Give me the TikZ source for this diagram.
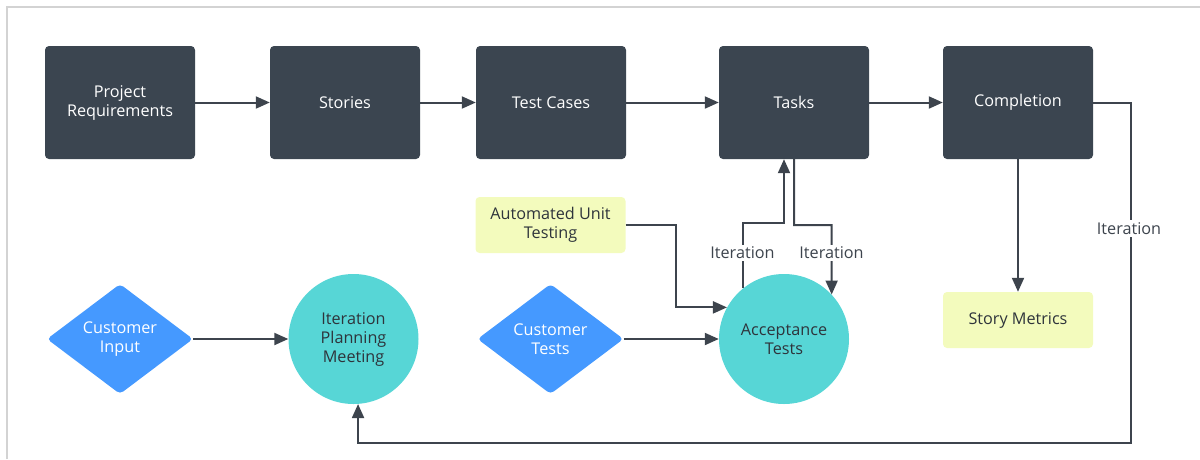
\documentclass[tikz,border=0pt]{standalone}
\usepackage{fontspec}
\setmainfont{Open Sans}
\usetikzlibrary{shapes.geometric,arrows.meta}
\definecolor{slate}{HTML}{3B4550}
\definecolor{lineclr}{HTML}{3D444D}
\definecolor{teal}{HTML}{57D6D6}
\definecolor{skyblue}{HTML}{4599FF}
\definecolor{paleyellow}{HTML}{F3FBBD}
\definecolor{framegray}{HTML}{D3D3D3}
\definecolor{inkdark}{HTML}{2E343B}
\tikzset{
  base/.style={font=\fontsize{16.2}{19}\selectfont, align=center, inner sep=0pt},
  darkbox/.style={base, rectangle, rounded corners=4pt, fill=slate, text=white,
    minimum width=150pt, minimum height=113pt},
  notebox/.style={base, rectangle, rounded corners=4pt, fill=paleyellow, text=inkdark,
    minimum width=150pt, minimum height=56pt},
  decision/.style={base, diamond, aspect=1.33, rounded corners=4pt, fill=skyblue, text=white,
    minimum width=146pt, minimum height=110pt},
  meeting/.style={base, circle, fill=teal, text=inkdark, minimum size=130pt},
  conn/.style={draw=lineclr, line width=2pt, -{Triangle[length=14pt,width=12pt]}},
  lbl/.style={base, fill=white, text=lineclr, inner sep=2pt},
}
\begin{document}
\begin{tikzpicture}[x=1pt,y=-1pt]
\useasboundingbox (0,0) rectangle (1200,459);
% frame lines along the top and left edges
\draw[framegray, line width=2pt] (6.5,459) -- (6.5,6.5) -- (1200,6.5);

% top row of process boxes
\node[darkbox] (pr) at (120,102.5) {Project\\Requirements};
\node[darkbox] (st) at (345,102.5) {Stories};
\node[darkbox] (tc) at (551,102.5) {Test Cases};
\node[darkbox] (tasks) at (794,102.5) {Tasks};
\node[darkbox] (co) at (1018,102.5) {Completion};

% notes
\node[notebox] (aut) at (550.5,225) {Automated Unit\\Testing};
\node[notebox] (sm) at (1018,320) {Story Metrics};

% decisions and meetings
\node[decision] (ci) at (120,339) {Customer\\Input};
\node[decision] (ct) at (550.5,339) {Customer\\Tests};
\node[meeting] (ipm) at (353.5,339) {Iteration\\Planning\\Meeting};
\node[meeting] (at) at (784,339) {Acceptance\\Tests};

% helper points for the routed connectors
\coordinate (loopR) at (1131,443);
\coordinate (upx) at (784,223);
\coordinate (dnx) at (831.5,225);
\coordinate (autx) at (676,225);

% main flow
\draw[conn] (pr) -- (st);
\draw[conn] (st) -- (tc);
\draw[conn] (tc) -- (tasks);
\draw[conn] (tasks) -- (co);
\draw[conn] (co) -- (sm);
\draw[conn] (ci) -- (ipm);
\draw[conn] (ct) -- (at);
\draw[conn] (aut.east) -- (autx) |- (at.151.5);

% iteration loops
\draw[conn] (at.129.1) |- (upx) -- (tasks.south -| upx);
\draw[conn] (tasks.south) |- (dnx) -- (at.43);
\draw[conn] (co.east) -| (loopR) -| (ipm.-86.5);

% loop labels
\node[lbl] (it1) at (742.5,253) {Iteration};
\node[lbl] (it2) at (831.5,253) {Iteration};
\node[lbl] (it3) at (1129,228.5) {Iteration};
\end{tikzpicture}
\end{document}
